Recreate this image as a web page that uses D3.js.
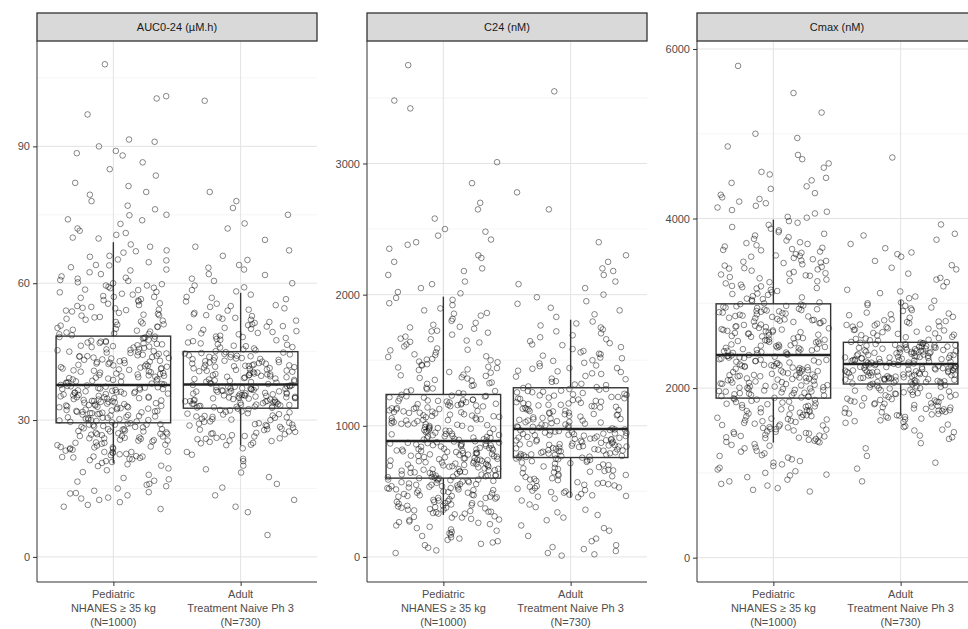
<!DOCTYPE html>
<html>
<head>
<meta charset="utf-8">
<script src="https://cdn.jsdelivr.net/npm/d3@7"></script>
<style>
  body { margin: 0; background: #fff; }
  text { font-family: "Liberation Sans", Arial, sans-serif; }
</style>
</head>
<body>
<svg id="chart" width="968" height="629"></svg>
<script>
// ---- data ----
const groups = ["Pediatric", "Adult"];
const groupLabels = [
  ["Pediatric", "NHANES \u2265 35 kg", "(N=1000)"],
  ["Adult", "Treatment Naive Ph 3", "(N=730)"]
];
const panelTitles = ["AUC0-24 (\u00b5M.h)", "C24 (nM)", "Cmax (nM)"];
const yTicks = [[0, 30, 60, 90], [0, 1000, 2000, 3000], [0, 2000, 4000, 6000]];
const yMinor = [[15, 45, 75, 105], [500, 1500, 2500, 3500], [1000, 3000, 5000]];
const yDomains = [[-5.5, 113.1], [-191, 3934], [-287, 6094]];

// [lower whisker, q1, median, q3, upper whisker]
const boxAuc  = [[20.5, 29.4, 37.7, 48.4, 69.0], [24.4, 32.6, 37.8, 45.0, 57.9]];
const boxC24  = [[320, 601, 885, 1239, 1985], [453, 758, 975, 1290, 1809]];
const boxCmax = [[1357, 1882, 2391, 2994, 3987], [1673, 2048, 2284, 2540, 3041]];

const aucPed = [10.5,11,12,12.5,13,13.5,14,14.5,15,15.5,16,16.5,17,18,19,20,
  21,21.5,22,22,22.5,23,23,23.5,24,24,24.5,25,25,25.5,25.5,26,26,26.5,26.5,27,27,27.5,27.5,28,28,28,28.5,28.5,29,29,29,21.8,23.8,26.8,
  29.6,30,30.2,30.5,30.8,31,31.2,31.5,31.8,32,32.2,32.5,32.8,33,33.2,33.5,33.8,34,34.2,34.5,34.8,35,35.2,35.5,35.8,36,36.2,36.5,36.8,37,37.3,37.5,30.1,30.6,31.4,32.1,32.9,33.6,34.3,34.9,35.4,36.1,36.7,37.1,31.7,33.1,34.6,35.6,36.4,37.6,
  37.9,38.2,38.5,38.8,39,39.3,39.6,40,40.3,40.6,41,41.3,41.6,42,42.3,42.6,43,43.3,43.6,44,44.3,44.6,45,45.3,45.6,46,46.3,46.6,47,47.3,47.6,48,48.2,38.4,39.8,40.9,41.9,42.8,43.9,44.8,45.8,46.8,47.8,38.1,39.4,40.5,41.4,42.5,43.5,44.5,
  48.8,49.2,49.6,50,50.5,51,51.5,52,52.5,53,53.5,54,54.5,55,55.5,56,56.5,57,57.5,58,58.5,59,59.5,60,60.5,61,62,63,64,65,66,67,68,50.2,52.2,54.2,56.2,59.2,
  70,71,72,73,74,75,77,78,80,82,85,88,88.5,89,90,91,91.5,97,100.5,101,108,
  11.4,12.8,14.2,15.8,17.3,18.6,19.4,13.9,16.7,19.9,
  20.3,20.8,21.2,21.7,22.3,22.8,23.3,23.7,24.2,24.8,25.3,25.7,26.2,26.7,27.2,27.7,28.2,28.7,29.2,20.6,21.4,22.1,22.9,23.6,24.4,25.1,25.9,26.4,27.1,27.9,28.4,28.9,29.3,21.9,23.1,24.6,25.6,26.9,27.6,28.6,22.6,24.1,26.1,27.3,29.1,
  29.5,29.9,30.3,30.7,31.1,31.6,32.3,32.7,33.3,33.9,34.1,34.7,35.1,35.7,36.3,36.9,37.4,29.8,30.4,31.3,31.9,32.4,33.4,34.4,35.3,35.9,36.6,37.2,30.9,32.6,34.2,35.8,37.7,31.5,33.7,36.0,30.0,32.0,34.0,36.2,29.7,31.8,33.2,34.8,36.8,30.5,33.0,35.0,37.0,32.8,
  37.8,38.3,38.9,39.5,40.1,40.7,41.2,41.8,42.4,43.1,43.7,44.2,44.9,45.4,46.1,46.7,47.2,47.9,48.3,38.6,39.7,40.8,41.7,42.9,44.1,45.1,46.4,47.4,38.0,39.1,40.2,41.1,42.1,43.2,44.7,45.9,47.1,48.1,39.9,42.7,45.5,38.7,41.5,44.0,46.9,40.4,43.8,46.2,39.2,42.2,
  48.6,49.0,49.8,50.4,51.2,51.8,52.6,53.3,54.1,54.8,55.6,56.3,57.2,58.1,58.9,59.8,60.7,61.5,62.4,63.5,64.6,65.8,67.2,68.5,49.4,50.9,52.9,54.6,56.8,58.6,60.2,62.8,65.2,48.9,51.6,53.8,55.2,57.7,61.2,63.9,66.7,50.7,53.1,57.0,59.5,
  69.8,71.5,73.8,76.2,79.4,81.3,83.6,86.5,70.6,74.9];
const aucAdult = [4.8,9.8,11,13.5,16,17.5,18.5,20,21.5,23,
  24.6,25,25.5,26,26.3,26.7,27,27.4,27.8,28.1,28.5,28.8,29.1,29.4,29.7,30,30.3,30.6,30.9,31.2,31.5,31.8,32.1,32.4,25.8,27.2,29,30.7,
  32.8,33,33.2,33.4,33.6,33.8,34,34.2,34.4,34.6,34.8,35,35.2,35.4,35.6,35.8,36,36.2,36.4,36.6,36.8,37,37.2,37.4,37.6,33.1,33.7,34.3,34.9,35.5,36.1,36.7,37.3,32.9,34.1,35.3,36.5,
  38,38.2,38.5,38.7,39,39.2,39.5,39.7,40,40.2,40.5,40.7,41,41.2,41.5,41.7,42,42.2,42.5,42.7,43,43.2,43.5,43.7,44,44.2,44.5,44.8,38.4,39.4,40.4,41.4,42.4,43.4,44.4,39.9,41.9,
  45.3,45.7,46,46.5,47,47.5,48,48.5,49,49.5,50,50.5,51,51.5,52,52.5,53,53.5,54,54.5,55,55.5,56,57,46.2,48.2,50.2,52.2,
  58.5,59.5,60,61,62,63,64,66,68,72,75,78,80,100,
  12.5,15.2,19.2,21.0,22.4,23.8,
  24.5,24.9,25.4,25.9,26.5,26.9,27.5,27.9,28.3,28.7,29.2,29.6,30.1,30.5,30.8,31.3,31.7,32.2,32.5,25.2,26.1,27.1,28.0,29.3,30.2,31.0,31.9,26.4,28.9,31.4,
  32.7,32.95,33.3,33.5,33.9,34.05,34.35,34.7,34.95,35.15,35.45,35.75,35.95,36.25,36.55,36.85,37.15,37.45,37.7,33.05,33.55,34.15,34.75,35.35,35.85,36.35,36.95,37.55,32.75,33.85,34.5,35.1,35.65,36.3,36.9,37.35,33.35,34.85,
  37.9,38.1,38.35,38.6,38.9,39.1,39.35,39.6,39.85,40.1,40.35,40.6,40.85,41.1,41.35,41.6,41.85,42.1,42.35,42.6,42.9,43.1,43.35,43.6,43.85,44.1,44.35,44.6,44.9,38.8,39.8,40.8,41.8,42.8,43.8,44.7,40.0,42.0,
  45.1,45.5,45.9,46.3,46.8,47.3,47.8,48.3,48.8,49.3,49.8,50.3,50.8,51.3,51.8,52.4,53.2,54.2,55.2,56.5,57.5,46.6,47.6,49.1,50.6,52.8,54.8,56.8,
  58.2,59.1,60.5,61.8,63.4,65.1,67.2,69.5,73.1,76.5];
const c24Ped = [30,70,90,110,130,150,170,190,210,230,250,260,280,290,300,310,
  330,345,360,375,390,405,420,435,450,465,480,495,510,520,530,540,550,560,570,580,590,598,340,380,420,460,500,540,580,355,455,555,395,515,
  610,620,630,640,650,660,670,680,690,700,710,720,730,740,750,760,770,780,790,800,810,820,830,840,850,860,870,880,615,645,675,705,735,765,795,825,855,625,665,715,755,805,845,875,635,695,745,785,815,865,
  895,905,915,930,945,960,975,990,1005,1020,1035,1050,1065,1080,1095,1110,1125,1140,1155,1170,1185,1200,1215,1230,900,940,980,1015,1045,1075,1105,1135,1165,1195,1225,920,970,1010,1060,1100,1150,1190,935,1000,1085,1130,1180,910,1040,1160,
  1250,1270,1290,1310,1330,1350,1370,1390,1410,1430,1450,1470,1490,1510,1530,1560,1590,1620,1650,1680,1710,1740,1770,1800,1840,1880,1920,1960,1260,1320,1380,1440,1500,1580,1660,1750,
  2010,2050,2100,2150,2200,2250,2300,2350,2400,2450,2500,2650,2700,2850,3010,3420,3480,3750,
  50,100,140,180,220,240,270,300,120,200,265,305,160,285,
  325,335,350,365,370,385,400,410,425,440,445,460,470,475,485,490,505,515,525,535,545,555,565,575,585,595,600,330,360,390,410,430,450,470,490,510,530,550,570,590,345,405,465,525,585,375,
  605,612,622,633,642,652,662,672,683,692,702,712,722,732,742,752,762,772,782,792,802,812,822,832,842,852,862,872,882,608,628,648,668,688,708,728,748,768,788,808,828,848,868,618,658,698,738,778,818,858,
  888,898,908,918,928,938,948,958,968,978,988,998,1008,1018,1028,1038,1048,1058,1068,1078,1088,1098,1108,1118,1128,1138,1148,1158,1168,1178,1188,1198,1208,1218,1228,1236,893,953,1013,1073,1133,1193,923,983,1043,1103,1163,1223,963,1113,
  1245,1265,1285,1305,1325,1345,1365,1385,1405,1425,1445,1465,1485,1505,1525,1545,1575,1605,1635,1665,1695,1725,1755,1785,1815,1855,1895,1935,1975,1280,1360,1460,1540,1640,1720,1860,
  2020,2080,2180,2280,2380,2480,2580,2420];
const c24Adult = [10,30,45,60,90,120,160,200,240,280,320,360,400,430,
  460,475,490,505,520,535,550,565,580,595,610,625,640,655,670,685,700,715,730,745,470,530,590,650,710,750,
  765,775,785,795,805,815,825,835,845,855,865,875,885,895,905,915,925,935,945,955,965,972,770,790,810,830,850,870,890,910,930,950,780,820,860,900,940,960,
  985,995,1010,1025,1040,1055,1070,1085,1100,1115,1130,1145,1160,1175,1190,1205,1220,1235,1250,1265,1280,990,1020,1050,1080,1110,1140,1170,1200,1230,1260,1000,1060,1120,1180,1240,1030,1150,
  1300,1320,1340,1360,1380,1400,1420,1440,1460,1480,1500,1520,1545,1570,1600,1630,1660,1690,1720,1750,1780,1310,1410,1550,
  1850,1900,1950,2000,2050,2100,2150,2200,2250,2300,2400,2650,2780,3550,
  20,75,140,220,300,340,380,445,
  455,465,480,495,510,525,540,555,570,585,600,615,630,645,660,675,690,705,720,735,750,757,500,560,620,680,740,545,665,725,
  760,768,778,788,798,808,818,828,838,848,858,868,878,888,898,908,918,928,938,948,958,968,762,782,802,822,842,862,882,902,922,942,962,772,812,852,892,932,972,842,
  980,992,1004,1016,1028,1040,1052,1064,1076,1088,1100,1112,1124,1136,1148,1160,1172,1184,1196,1208,1220,1232,1244,1256,1268,1280,1288,1010,1045,1090,1125,1165,1210,1255,985,1035,1095,1155,1215,1275,
  1295,1315,1335,1355,1375,1395,1415,1435,1455,1475,1495,1515,1535,1560,1585,1615,1645,1675,1705,1735,1765,1795,1440,1620,
  1830,1880,1930,1980,2080,2180];
const cmaxPed = [780,820,870,900,950,980,1000,1040,1080,1100,1140,1180,1200,1230,1260,1290,1320,1340,
  1370,1390,1410,1430,1450,1470,1490,1510,1530,1550,1570,1590,1610,1630,1650,1670,1690,1710,1730,1750,1770,1790,1810,1830,1850,1870,1400,1500,1600,1700,1800,1460,
  1890,1905,1920,1935,1950,1965,1980,1995,2010,2025,2040,2055,2070,2085,2100,2115,2130,2145,2160,2175,2190,2205,2220,2235,2250,2265,2280,2295,2310,2325,2340,2355,2370,2385,1900,1960,2020,2080,2140,2200,2260,2320,2380,1940,2050,2150,2270,2360,1990,2110,
  2400,2415,2430,2445,2460,2475,2490,2510,2530,2550,2570,2590,2610,2630,2650,2670,2690,2710,2730,2750,2770,2790,2810,2830,2850,2870,2890,2910,2930,2950,2970,2990,2420,2480,2540,2600,2660,2720,2780,2840,2900,2960,2450,2560,2680,2800,2920,2500,2640,2880,
  3010,3040,3070,3100,3130,3160,3190,3220,3250,3280,3310,3340,3370,3400,3430,3460,3490,3520,3550,3580,3610,3640,3670,3700,3740,3780,3820,3860,3900,3950,3050,3200,3350,3500,
  4020,4060,4100,4150,4200,4250,4300,4350,4420,4480,4550,4600,4650,4750,4850,4950,5000,5250,5480,5800,
  800,850,920,970,1020,1060,1120,1160,1210,1250,1300,1330,
  1360,1380,1420,1440,1480,1520,1540,1560,1580,1620,1640,1660,1680,1720,1740,1760,1780,1820,1840,1860,1880,1365,1415,1465,1515,1565,1615,1665,1715,1765,1815,1865,1435,1535,1635,1735,1835,1485,1685,1785,
  1885,1898,1912,1928,1942,1958,1972,1988,2002,2018,2032,2048,2062,2078,2092,2108,2122,2138,2152,2168,2182,2198,2212,2228,2242,2258,2272,2288,2302,2318,2332,2348,2362,2378,2390,1915,1975,2035,2095,2155,2215,2275,2335,1945,2065,2185,2305,2005,2125,2245,
  2395,2410,2425,2440,2455,2470,2485,2505,2525,2545,2565,2585,2605,2625,2645,2665,2685,2705,2725,2745,2765,2785,2805,2825,2845,2865,2885,2905,2925,2945,2965,2985,2435,2495,2555,2615,2675,2735,2795,2855,2915,2975,2465,2575,2695,2815,2935,2515,2655,2895,
  3000,3025,3055,3085,3115,3145,3175,3205,3235,3265,3295,3325,3355,3385,3415,3445,3475,3505,3535,3565,3595,3625,3655,3685,3720,3760,3800,3840,3880,3925,3970,3110,3260,3410,3560,3710,3180,3330,3480,3630,
  4010,4080,4130,4180,4230,4280,4380,4450,4520,4700];
const cmaxAdult = [900,1050,1120,1200,1290,1350,1400,1440,1480,1510,1540,1570,1600,1620,1640,1660,
  1680,1700,1720,1740,1760,1780,1800,1820,1840,1860,1880,1900,1920,1940,1960,1980,2000,2020,2040,1690,1730,1770,1810,1850,1890,1930,1970,2010,1750,1910,
  2055,2065,2075,2085,2095,2105,2115,2125,2135,2145,2155,2165,2175,2185,2195,2205,2215,2225,2235,2245,2255,2265,2275,2060,2080,2100,2120,2140,2160,2180,2200,2220,2240,2260,2280,2150,
  2290,2300,2310,2320,2330,2340,2350,2360,2370,2380,2390,2400,2410,2420,2430,2440,2450,2460,2470,2480,2490,2500,2510,2520,2530,2295,2325,2355,2385,2415,2445,2475,2505,2535,2345,2465,
  2560,2580,2600,2620,2640,2660,2680,2700,2720,2740,2760,2780,2800,2830,2860,2890,2920,2950,2980,3010,2570,2650,2750,2870,
  3080,3120,3160,3200,3250,3300,3350,3400,3450,3500,3550,3600,3650,3700,3750,3800,3930,4720,
  1420,1500,1550,1590,1610,1630,1650,1665,
  1675,1695,1715,1735,1755,1775,1795,1815,1835,1855,1875,1895,1915,1935,1955,1975,1995,2015,2035,2045,1710,1790,1870,1950,2030,1760,1840,1920,2000,1820,
  2050,2058,2068,2078,2088,2098,2108,2118,2128,2138,2148,2158,2168,2178,2188,2198,2208,2218,2228,2238,2248,2258,2268,2278,2283,2070,2090,2110,2130,2170,2190,2210,2230,2250,2270,2072,2112,2152,2192,2232,
  2286,2296,2306,2316,2326,2336,2346,2356,2366,2376,2386,2396,2406,2416,2426,2436,2446,2456,2466,2476,2486,2496,2506,2516,2526,2536,2302,2332,2362,2392,2422,2452,2482,2512,2312,2372,2432,2492,2352,2412,
  2545,2565,2585,2605,2625,2645,2665,2685,2705,2725,2745,2765,2785,2810,2840,2880,2910,2940,2970,3000,3030,2590,2690,2790,2630,2730,
  3060,3140,3280,3420,3580,3820];

const panelPoints = [[aucPed, aucAdult], [c24Ped, c24Adult], [cmaxPed, cmaxAdult]];
const panelBoxes = [boxAuc, boxC24, boxCmax];

// ---- layout ----
const svg = d3.select("#chart");
const panelLeft = [37, 367, 697];
const panelW = 280, panelTop = 41, panelBottom = 582, stripTop = 13;
const axisCol = "#4d4d4d";

// deterministic horizontal jitter (layout only)
function jit(i, g) {
  const s = Math.sin((i + 1) * 12.9898 + g * 78.233) * 43758.5453;
  return s - Math.floor(s) - 0.5;
}

panelTitles.forEach((title, p) => {
  const x0 = panelLeft[p];
  const x = d3.scalePoint().domain(groups).range([x0, x0 + panelW]).padding(0.6);
  const step = x.step();
  const y = d3.scaleLinear().domain(yDomains[p]).range([panelBottom, panelTop]);
  const g = svg.append("g");

  // grid
  g.selectAll(".minor").data(yMinor[p].filter(v => y(v) > panelTop)).join("line")
    .attr("x1", x0).attr("x2", x0 + panelW)
    .attr("y1", d => y(d)).attr("y2", d => y(d))
    .attr("stroke", "#f0f0f0").attr("stroke-width", 0.7);
  g.selectAll(".major").data(yTicks[p]).join("line")
    .attr("x1", x0).attr("x2", x0 + panelW)
    .attr("y1", d => y(d)).attr("y2", d => y(d))
    .attr("stroke", "#e3e3e3").attr("stroke-width", 1);
  g.selectAll(".vgrid").data(groups).join("line")
    .attr("x1", d => x(d)).attr("x2", d => x(d))
    .attr("y1", panelTop).attr("y2", panelBottom)
    .attr("stroke", "#e3e3e3").attr("stroke-width", 1);

  // jittered points
  groups.forEach((grp, gi) => {
    g.append("g").selectAll("circle").data(panelPoints[p][gi]).join("circle")
      .attr("cx", (d, i) => x(grp) + jit(i, gi + p * 2) * 0.88 * step)
      .attr("cy", d => y(d))
      .attr("r", 2.8)
      .attr("fill", "none")
      .attr("stroke", "rgba(0,0,0,0.55)")
      .attr("stroke-width", 0.85);
  });

  // boxes
  const bw = 0.9 * step;
  const box = g.selectAll(".box").data(panelBoxes[p]).join("g");
  box.append("line")
    .attr("x1", (d, i) => x(groups[i])).attr("x2", (d, i) => x(groups[i]))
    .attr("y1", d => y(d[3])).attr("y2", d => y(d[4]))
    .attr("stroke", "#333").attr("stroke-width", 1.4);
  box.append("line")
    .attr("x1", (d, i) => x(groups[i])).attr("x2", (d, i) => x(groups[i]))
    .attr("y1", d => y(d[0])).attr("y2", d => y(d[1]))
    .attr("stroke", "#333").attr("stroke-width", 1.4);
  box.append("rect")
    .attr("x", (d, i) => x(groups[i]) - bw / 2).attr("width", bw)
    .attr("y", d => y(d[3])).attr("height", d => y(d[1]) - y(d[3]))
    .attr("fill", "none").attr("stroke", "#333").attr("stroke-width", 1.4);
  box.append("line")
    .attr("x1", (d, i) => x(groups[i]) - bw / 2).attr("x2", (d, i) => x(groups[i]) + bw / 2)
    .attr("y1", d => y(d[2])).attr("y2", d => y(d[2]))
    .attr("stroke", "#222").attr("stroke-width", 2.5);

  // y axis
  const ya = g.append("g").attr("transform", `translate(${x0},0)`)
    .call(d3.axisLeft(y).tickValues(yTicks[p]).tickFormat(d3.format("d")).tickSize(4).tickPadding(3));
  ya.select(".domain").attr("stroke", "#333").attr("d", `M0,${panelTop}V${panelBottom}`);
  ya.selectAll(".tick line").attr("stroke", "#333");
  ya.selectAll(".tick text").attr("fill", axisCol).style("font-size", "11px")
    .style("font-family", "Liberation Sans, Arial, sans-serif");

  // x axis
  const xa = g.append("g").attr("transform", `translate(0,${panelBottom})`)
    .call(d3.axisBottom(x).tickSize(4).tickFormat(""));
  xa.select(".domain").attr("stroke", "#333").attr("d", `M${x0},0H${x0 + panelW}`);
  xa.selectAll(".tick line").attr("stroke", "#333");
  groups.forEach((grp, gi) => {
    const t = g.append("text").attr("text-anchor", "middle")
      .attr("fill", axisCol).style("font-size", "11px");
    groupLabels[gi].forEach((ln, li) => {
      t.append("tspan").attr("x", x(grp)).attr("y", panelBottom + 16 + li * 14).text(ln);
    });
  });

  // strip
  g.append("rect").attr("x", x0).attr("y", stripTop).attr("width", panelW).attr("height", panelTop - stripTop)
    .attr("fill", "#d9d9d9").attr("stroke", "#333").attr("stroke-width", 1.3);
  g.append("text").attr("x", x0 + panelW / 2).attr("y", (stripTop + panelTop) / 2 + 4)
    .attr("text-anchor", "middle").attr("fill", "#1a1a1a").style("font-size", "11px")
    .text(title);
});
</script>
</body>
</html>
